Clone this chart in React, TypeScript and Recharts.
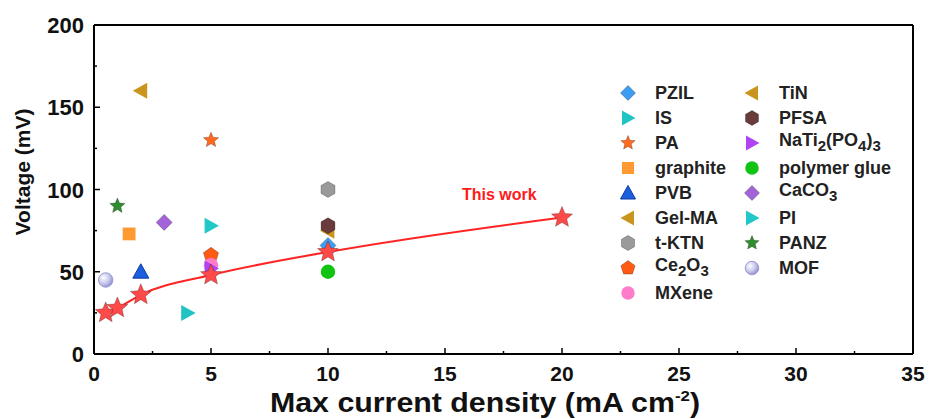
import React from 'react';
import {
  ComposedChart,
  Scatter,
  Line,
  XAxis,
  YAxis,
  ReferenceLine,
} from 'recharts';

// literature materials (x = max current density, y = voltage)
const MATERIALS = [
  'PZIL', 'IS', 'PA', 'graphite', 'PVB', 'Gel-MA', 't-KTN', 'Ce2O3', 'MXene',
  'TiN', 'PFSA', 'NaTi2(PO4)3', 'polymer glue', 'CaCO3', 'PI', 'PANZ', 'MOF',
];
const MAT_X = [10, 4, 5, 1.5, 2, 10, 10, 5, 5, 2, 10, 5, 10, 3, 5, 1, 0.5];
const MAT_Y = [66, 25, 130, 73, 50, 75, 100, 60, 54, 160, 78, 52, 50, 80, 78, 90, 45];

// this work
const THIS_WORK_X = [0.5, 1, 2, 5, 10, 20];
const THIS_WORK_Y = [25, 28, 36, 48, 62, 83];

const X_TICKS = [0, 2.5, 5, 7.5, 10, 12.5, 15, 17.5, 20, 22.5, 25, 27.5, 30, 32.5, 35];
const Y_TICKS = [0, 25, 50, 75, 100, 125, 150, 175, 200];

const SHAPES = [
  'diamond', 'triRight', 'star', 'square', 'triUp', 'triLeft', 'hexagon', 'pentagon', 'circle',
  'triLeft', 'hexagon', 'triRight', 'circle', 'diamond', 'triRight', 'star', 'sphere',
];
const FILLS = [
  '#3d9df2', '#22c3c3', '#ff6a1f', '#ff9a33', '#1b5fdf', '#c9951d', '#9a9a9a', '#ff5b12', '#ff7ccb',
  '#c9951d', '#6a3b3b', '#b044f2', '#12c412', '#a463d9', '#22c7c7', '#2f8c2f', '#b9b9e6',
];

const LABELS: Record<string, React.ReactNode> = {
  Ce2O3: <>Ce<sub>2</sub>O<sub>3</sub></>,
  'NaTi2(PO4)3': <>NaTi<sub>2</sub>(PO<sub>4</sub>)<sub>3</sub></>,
  CaCO3: <>CaCO<sub>3</sub></>,
};

const FONT = 'Arial, "Liberation Sans", Helvetica, sans-serif';

function polyPts(n: number, cx: number, cy: number, r: number, rot: number) {
  const pts: string[] = [];
  for (let i = 0; i < n; i++) {
    const a = rot + (i * 2 * Math.PI) / n;
    pts.push(`${cx + r * Math.cos(a)},${cy + r * Math.sin(a)}`);
  }
  return pts.join(' ');
}

function starPts(cx: number, cy: number, r: number) {
  const pts: string[] = [];
  for (let i = 0; i < 10; i++) {
    const a = -Math.PI / 2 + (i * Math.PI) / 5;
    const rr = i % 2 === 0 ? r : r * 0.45;
    pts.push(`${cx + rr * Math.cos(a)},${cy + rr * Math.sin(a)}`);
  }
  return pts.join(' ');
}

const Marker = ({ kind, cx, cy, fill, s = 7 }: { kind: string; cx: number; cy: number; fill: string; s?: number }) => {
  const stroke = 'rgba(0,0,0,0.25)';
  switch (kind) {
    case 'diamond':
      return <polygon points={`${cx},${cy - s} ${cx + s},${cy} ${cx},${cy + s} ${cx - s},${cy}`} fill={fill} stroke={stroke} />;
    case 'triRight':
      return <polygon points={`${cx - s * 0.8},${cy - s} ${cx + s},${cy} ${cx - s * 0.8},${cy + s}`} fill={fill} />;
    case 'triLeft':
      return <polygon points={`${cx + s * 0.8},${cy - s} ${cx - s},${cy} ${cx + s * 0.8},${cy + s}`} fill={fill} />;
    case 'triUp':
      return <polygon points={`${cx},${cy - s} ${cx + s},${cy + s * 0.8} ${cx - s},${cy + s * 0.8}`} fill={fill} stroke="#0b3aa0" />;
    case 'square':
      return <rect x={cx - s * 0.8} y={cy - s * 0.8} width={s * 1.6} height={s * 1.6} fill={fill} />;
    case 'hexagon':
      return <polygon points={polyPts(6, cx, cy, s, -Math.PI / 2)} fill={fill} stroke={stroke} />;
    case 'pentagon':
      return <polygon points={polyPts(5, cx, cy, s, -Math.PI / 2)} fill={fill} stroke={stroke} />;
    case 'star':
      return <polygon points={starPts(cx, cy, s)} fill={fill} stroke={stroke} />;
    case 'sphere':
      return <circle cx={cx} cy={cy} r={s * 0.9} fill="url(#sphereGrad)" stroke="#9a9ad0" />;
    default:
      return <circle cx={cx} cy={cy} r={s * 0.9} fill={fill} />;
  }
};

// tickSize 0 + tickMargin 0: x/y given is the axis line position itself
const XTick = (props: any) => {
  const { x, y, payload } = props;
  const major = payload.value % 5 === 0;
  return (
    <g>
      <line x1={x} x2={x} y1={y} y2={y - (major ? 6 : 3)} stroke="#000" strokeWidth={1.5} />
      {major && (
        <text x={x} y={y + 27} textAnchor="middle" fontSize={21} fontWeight="bold" fill="#111" fontFamily={FONT}>
          {payload.value}
        </text>
      )}
    </g>
  );
};

const YTick = (props: any) => {
  const { x, y, payload } = props;
  const major = payload.value % 50 === 0;
  return (
    <g>
      <line x1={x} x2={x + (major ? 6 : 3)} y1={y} y2={y} stroke="#000" strokeWidth={1.5} />
      {major && (
        <text x={x - 10} y={y + 8} textAnchor="end" fontSize={22} fontWeight="bold" fill="#111" fontFamily={FONT}>
          {payload.value}
        </text>
      )}
    </g>
  );
};

const LegendBox = () => (
  <div style={{ position: 'absolute', left: 615, top: 83, width: 310, height: 230, fontFamily: FONT }}>
    {MATERIALS.map((name, i) => {
      const col = i < 9 ? 0 : 1;
      const row = i < 9 ? i : i - 9;
      const top = row * 25;
      const left = col * 124;
      return (
        <div key={name} style={{ position: 'absolute', left, top, height: 20, display: 'flex', alignItems: 'center' }}>
          <svg width={26} height={20} style={{ overflow: 'visible' }}>
            <Marker kind={SHAPES[i]} cx={13} cy={10} fill={FILLS[i]} s={7.5} />
          </svg>
          <span style={{ marginLeft: 14, fontSize: 18, fontWeight: 'bold', color: '#222', whiteSpace: 'nowrap', lineHeight: '20px' }}>
            {LABELS[name] ?? name}
          </span>
        </div>
      );
    })}
  </div>
);

export default function App() {
  const thisWork = THIS_WORK_X.map((x, i) => ({ x, y: THIS_WORK_Y[i] }));
  return (
    <div style={{ position: 'absolute', left: 0, top: 0, width: 933, height: 419, background: '#fff' }}>
      <svg width={0} height={0} style={{ position: 'absolute' }}>
        <defs>
          <radialGradient id="sphereGrad" cx="35%" cy="35%" r="70%">
            <stop offset="0%" stopColor="#ffffff" />
            <stop offset="60%" stopColor="#c4c4ec" />
            <stop offset="100%" stopColor="#8d8dc8" />
          </radialGradient>
        </defs>
      </svg>
      <ComposedChart width={933} height={419} margin={{ top: 25, right: 20, bottom: 35, left: 34 }}>
        <XAxis
          type="number"
          dataKey="x"
          domain={[0, 35]}
          ticks={X_TICKS}
          interval={0}
          height={30}
          tick={<XTick />}
          tickLine={false}
          tickSize={0}
          tickMargin={0}
          axisLine={{ stroke: '#000', strokeWidth: 2 }}
          allowDuplicatedCategory={false}
        />
        <YAxis
          type="number"
          dataKey="y"
          domain={[0, 200]}
          ticks={Y_TICKS}
          interval={0}
          width={60}
          tick={<YTick />}
          tickLine={false}
          tickSize={0}
          tickMargin={0}
          axisLine={{ stroke: '#000', strokeWidth: 2 }}
        />
        <ReferenceLine y={200} stroke="#000" strokeWidth={2} ifOverflow="visible" />
        <ReferenceLine x={35} stroke="#000" strokeWidth={2} ifOverflow="visible" />
        {MATERIALS.map((name, i) => (
          <Scatter
            key={name}
            name={name}
            data={[{ x: MAT_X[i], y: MAT_Y[i] }]}
            isAnimationActive={false}
            shape={(p: any) => <Marker kind={SHAPES[i]} cx={p.cx} cy={p.cy} fill={FILLS[i]} s={8} />}
          />
        ))}
        <Line
          data={thisWork}
          dataKey="y"
          type="monotone"
          stroke="#ff2424"
          strokeWidth={2}
          isAnimationActive={false}
          dot={(p: any) => <Marker key={p.index} kind="star" cx={p.cx} cy={p.cy} fill="#ff4a4a" s={11} />}
          activeDot={false}
        />
        <text x={462} y={200} fontSize={16} fontWeight="bold" fill="#ff1a1a" fontFamily={FONT}>
          This work
        </text>
        <text
          x={22}
          y={172}
          transform="rotate(-90, 22, 172)"
          textAnchor="middle"
          dominantBaseline="central"
          fontSize={21}
          fontWeight="bold"
          fill="#111"
          fontFamily={FONT}
        >
          Voltage (mV)
        </text>
        <text
          x={270}
          y={412}
          fontSize={27}
          fontWeight="bold"
          fill="#111"
          fontFamily={FONT}
          textLength={430}
          lengthAdjust="spacingAndGlyphs"
        >
          Max current density (mA cm
          <tspan dy={-11} fontSize={15}>-2</tspan>
          <tspan dy={11}>)</tspan>
        </text>
      </ComposedChart>
      <LegendBox />
    </div>
  );
}
